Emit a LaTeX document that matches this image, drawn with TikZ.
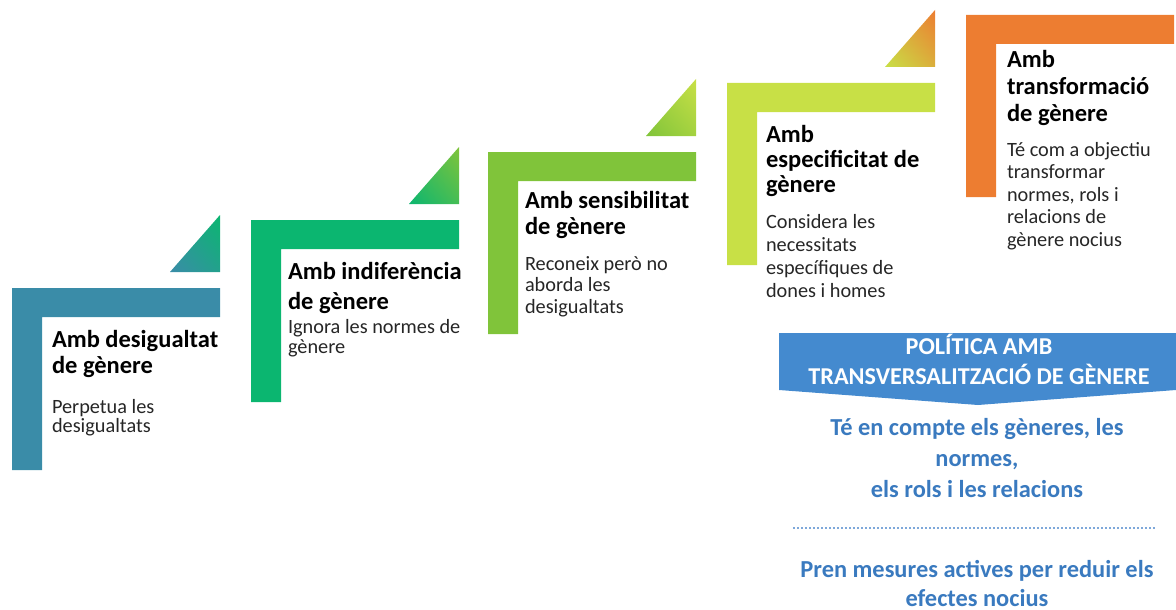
\documentclass[tikz,border=0pt]{standalone}
\usepackage{fontspec}
\setmainfont{Carlito}
\usetikzlibrary{shadings}

% step colours
\definecolor{stA}{HTML}{3A8CA8}
\definecolor{stB}{HTML}{0BB670}
\definecolor{stC}{HTML}{80C43A}
\definecolor{stD}{HTML}{C8E046}
\definecolor{stE}{HTML}{ED7D31}
\definecolor{polblue}{HTML}{448ACF}
\definecolor{poltext}{HTML}{3A7ABF}
\definecolor{dotblue}{HTML}{7EA8DA}
\definecolor{bodygray}{HTML}{262626}

% stacked lines, baseline = first line
\newcommand\linesL[1]{\vtop{\halign{##\hfil\cr#1\crcr}}}
\newcommand\linesC[1]{\vtop{\halign{\hfil##\hfil\cr#1\crcr}}}

% L-shaped stair: corner at (L,T), width 208, bar 29, post 30 wide
\newcommand\stairbar[3]{%
  \fill[#3] (#1,#2) -- ++(208,0) -- ++(0,29) -- ++(-178,0) -- ++(0,153) -- ++(-30,0) -- cycle;}
% shaded triangle above a stair
\newcommand\stairwedge[4]{%
  \shade[lower left=#3, upper right=#4, upper left=#3!50!#4, lower right=#3!50!#4]
    (#1+158,#2-16) -- (#1+208,#2-16) -- (#1+208,#2-73) -- cycle;}

\begin{document}
\begin{tikzpicture}[x=1pt,y=-1pt,
  txt/.style={anchor=base west, inner sep=0pt, outer sep=0pt},
  ctxt/.style={anchor=base, inner sep=0pt, outer sep=0pt}]
\useasboundingbox (0,0) rectangle (1176,610);

\stairbar{12}{288}{stA}
\stairbar{251}{220}{stB}
\stairbar{488}{152}{stC}
\stairbar{727}{83}{stD}
\stairbar{966}{15}{stE}

\stairwedge{12}{288}{stA}{stB}
\stairwedge{251}{220}{stB}{stC}
\stairwedge{488}{152}{stC}{stD}
\stairwedge{727}{83}{stD}{stE}

% step titles and descriptions
\node[txt] (t1) at (52,347) {\fontsize{24.5}{26}\selectfont\bfseries\linesL{Amb desigualtat\cr de gènere}};
\node[txt, text=bodygray] (d1) at (52,413) {\fontsize{20.3}{19.5}\selectfont\linesL{Perpetua les\cr desigualtats}};

\node[txt] (t2) at (288,279) {\fontsize{24.5}{30}\selectfont\bfseries\linesL{Amb indiferència\cr de gènere}};
\node[txt, text=bodygray] (d2) at (288,333) {\fontsize{20.3}{20}\selectfont\linesL{Ignora les normes de\cr gènere}};

\node[txt] (t3) at (525,208) {\fontsize{24.5}{26}\selectfont\bfseries\linesL{Amb sensibilitat\cr de gènere}};
\node[txt, text=bodygray] (d3) at (525,270) {\fontsize{20.3}{21.5}\selectfont\linesL{Reconeix però no\cr aborda les\cr desigualtats}};

\node[txt] (t4) at (766,142) {\fontsize{24.5}{25.5}\selectfont\bfseries\linesL{Amb\cr especificitat de\cr gènere}};
\node[txt, text=bodygray] (d4) at (766,228) {\fontsize{20.3}{23}\selectfont\linesL{Considera les\cr necessitats\cr específiques de\cr dones i homes}};

\node[txt] (t5) at (1007,68) {\fontsize{24.5}{27}\selectfont\bfseries\linesL{Amb\cr transformació\cr de gènere}};
\node[txt, text=bodygray] (d5) at (1007,156) {\fontsize{20.3}{22.5}\selectfont\linesL{Té com a objectiu\cr transformar\cr normes, rols i\cr relacions de\cr gènere nocius}};

% policy banner
\fill[polblue] (779,333) -- (1176,333) -- (1176,390) -- (978,405) -- (779,390) -- cycle;
\node[ctxt, text=white] (pol) at (979,354) {\fontsize{24.2}{30}\selectfont\bfseries\linesC{POLÍTICA AMB\cr TRANSVERSALITZACIÓ DE GÈNERE}};

\node[ctxt, text=poltext] (p1) at (977,435) {\fontsize{24.4}{31}\selectfont\bfseries\linesC{Té en compte els gèneres, les\cr normes,\cr els rols i les relacions}};
\draw[dotblue, line width=1.8pt, dash pattern=on 1.8pt off 2.2pt] (793,528) -- (1156,528);
\node[ctxt, text=poltext] (p2) at (977,577) {\fontsize{24.4}{29}\selectfont\bfseries\linesC{Pren mesures actives per reduir els\cr efectes nocius}};
\end{tikzpicture}
\end{document}
